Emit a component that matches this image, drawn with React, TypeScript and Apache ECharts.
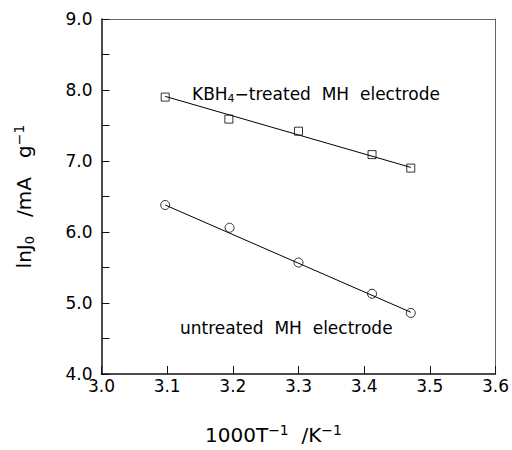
import React, { useEffect, useRef } from "react";
import * as echarts from "echarts";

const xTicks = [3.0, 3.1, 3.2, 3.3, 3.4, 3.5, 3.6];
const treatedX = [3.097, 3.194, 3.300, 3.412, 3.471];
const treatedY = [7.90, 7.59, 7.42, 7.09, 6.90];
const untreatedX = [3.097, 3.195, 3.300, 3.412, 3.471];
const untreatedY = [6.38, 6.06, 5.57, 5.13, 4.86];
const treatedFitX = [3.097, 3.471];
const treatedFitY = [7.91, 6.91];
const untreatedFitX = [3.097, 3.471];
const untreatedFitY = [6.38, 4.87];

const FONT = "DejaVu Sans";

export default function App() {
  const ref = useRef<HTMLDivElement>(null);
  useEffect(() => {
    if (!ref.current) return;
    const chart = echarts.init(ref.current, undefined, { renderer: "svg" });
    const zip = (xs: number[], ys: number[]) => xs.map((x, i) => [x, ys[i]]);
    const titleRich = {
      n: { fontFamily: FONT, fontSize: 20, color: "#000", lineHeight: 24, verticalAlign: "middle" },
      sub: { fontFamily: FONT, fontSize: 13, color: "#000", lineHeight: 14, verticalAlign: "bottom" },
      sup: { fontFamily: FONT, fontSize: 14, color: "#000", lineHeight: 14, verticalAlign: "top" },
    };
    chart.setOption({
      animation: false,
      backgroundColor: "#fff",
      grid: { left: 101.5, top: 19, right: 12, bottom: 64.3 },
      xAxis: [
        {
          type: "value",
          min: xTicks[0],
          max: xTicks[xTicks.length - 1],
          interval: 0.1,
          position: "bottom",
          axisLine: { lineStyle: { color: "#111", width: 1.5 } },
          axisTick: { inside: true, length: 8, lineStyle: { color: "#111", width: 1 } },
          axisLabel: {
            color: "#000",
            fontFamily: FONT,
            fontSize: 17,
            margin: 3,
            formatter: (v: number) => v.toFixed(1),
          },
          splitLine: { show: false },
          name: "{n|1000T}{sup|\u22121}{n|  /K}{sup|\u22121}",
          nameLocation: "middle",
          nameGap: 49,
          nameTextStyle: { color: "#000", fontFamily: FONT, fontSize: 20, rich: titleRich, padding: [0, 50, 0, 0] },
        },
        {
          type: "value",
          min: xTicks[0],
          max: xTicks[xTicks.length - 1],
          position: "top",
          axisLine: { show: true, onZero: false, lineStyle: { color: "#666", width: 1 } },
          axisTick: { show: false },
          axisLabel: { show: false },
          splitLine: { show: false },
        },
      ],
      yAxis: [
        {
          type: "value",
          min: 4,
          max: 9,
          interval: 0.5,
          position: "left",
          axisLine: { show: true, lineStyle: { color: "#111", width: 1.5 } },
          axisTick: { show: true, inside: true, length: 8, lineStyle: { color: "#111", width: 1 } },
          axisLabel: {
            color: "#000",
            fontFamily: FONT,
            fontSize: 17,
            margin: 9,
            formatter: (v: number) => (Math.abs(v - Math.round(v)) < 1e-6 ? v.toFixed(1) : ""),
          },
          splitLine: { show: false },
          name: "{n|lnJ}{sub|0}{n|   /mA   g}{sup|\u22121}",
          nameLocation: "middle",
          nameRotate: 90,
          nameGap: 66,
          nameTextStyle: { color: "#000", fontFamily: FONT, fontSize: 20, rich: titleRich },
        },
        {
          type: "value",
          min: 4,
          max: 9,
          position: "right",
          axisLine: { show: true, onZero: false, lineStyle: { color: "#666", width: 1 } },
          axisTick: { show: false },
          axisLabel: { show: false },
          splitLine: { show: false },
        },
      ],
      series: [
        {
          type: "line",
          data: zip(treatedFitX, treatedFitY),
          symbol: "none",
          lineStyle: { color: "#000", width: 1 },
          silent: true,
        },
        {
          type: "line",
          data: zip(untreatedFitX, untreatedFitY),
          symbol: "none",
          lineStyle: { color: "#000", width: 1 },
          silent: true,
        },
        {
          type: "scatter",
          data: zip(treatedX, treatedY),
          symbol: "rect",
          symbolSize: 8,
          itemStyle: { color: "#fff", borderColor: "#000", borderWidth: 1 },
        },
        {
          type: "scatter",
          data: zip(untreatedX, untreatedY),
          symbol: "circle",
          symbolSize: 9,
          itemStyle: { color: "#fff", borderColor: "#000", borderWidth: 1 },
        },
      ],
      graphic: [
        {
          type: "text",
          left: 192,
          top: 85,
          style: {
            text: "{n|KBH}{sub|4}{n|\u2212treated  MH  electrode}",
            rich: {
              n: { fontFamily: FONT, fontSize: 17, fill: "#000", lineHeight: 20, verticalAlign: "middle" },
              sub: { fontFamily: FONT, fontSize: 11, fill: "#000", lineHeight: 11, verticalAlign: "bottom" },
            },
          },
        },
        {
          type: "text",
          left: 180,
          top: 319,
          style: {
            text: "untreated  MH  electrode",
            fill: "#000",
            font: `17px "${FONT}"`,
          },
        },
      ],
    });
    return () => chart.dispose();
  }, []);
  return (
    <div
      ref={ref}
      style={{ position: "fixed", left: 0, top: 0, width: 512, height: 450 }}
    />
  );
}
